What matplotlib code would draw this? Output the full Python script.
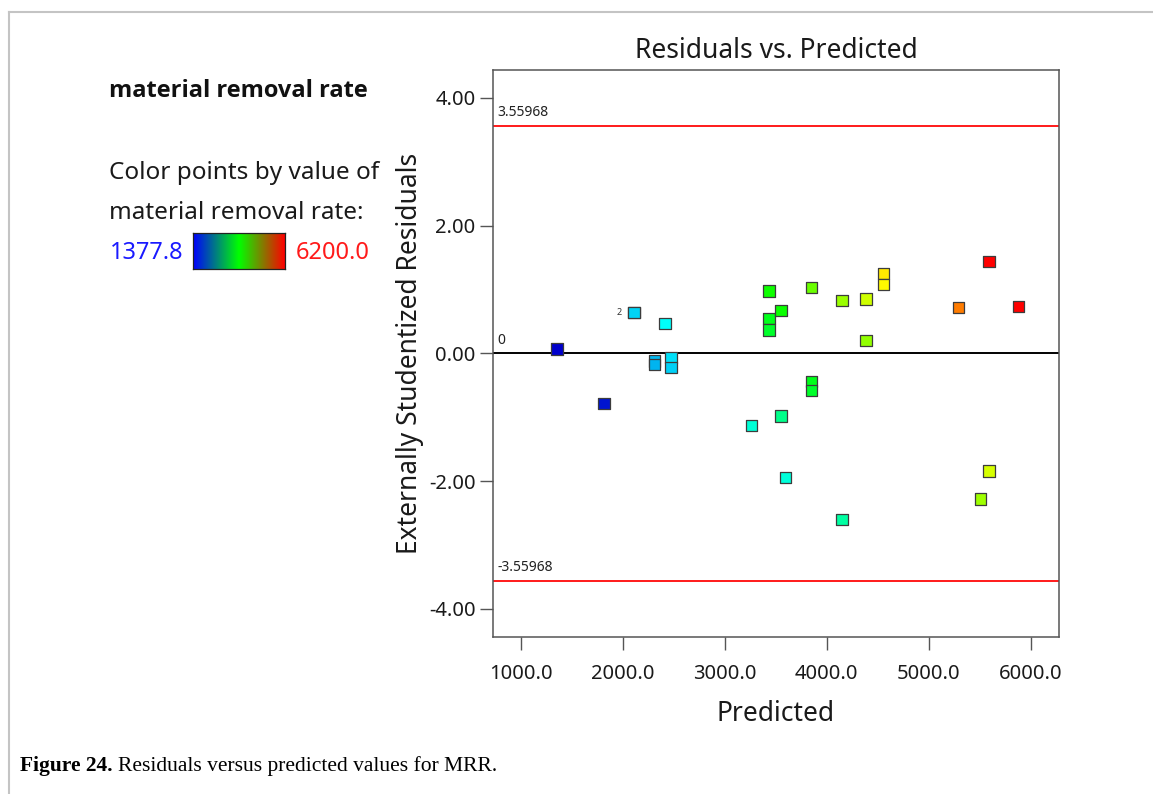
import matplotlib
matplotlib.use("Agg")
import matplotlib.pyplot as plt
import numpy as np
from matplotlib.colors import LinearSegmentedColormap, Normalize
from matplotlib.lines import Line2D

# run data: predicted MRR, externally studentized residual, actual MRR (for colouring)
predicted = [1353, 1814, 2108, 2108, 2413, 2308, 2308, 2471, 2471, 3263,
             3433, 3433, 3433, 3551, 3851, 4149, 4384, 4554, 4554, 4384,
             5290, 5591, 5879, 3851, 3851, 3551, 3597, 4149, 5591, 5510]
residuals = [0.07, -0.79, 0.64, 0.64, 0.47, -0.12, -0.17, -0.06, -0.22, -1.13,
             0.975, 0.55, 0.365, 0.67, 1.03, 0.83, 0.85, 1.25, 1.08, 0.20,
             0.72, 1.44, 0.735, -0.44, -0.585, -0.98, -1.94, -2.60, -1.84, -2.28]
actual_mrr = [1378, 1480, 2380, 2380, 2610, 2255, 2235, 2445, 2376, 2780,
              3850, 3670, 3590, 3840, 4290, 4505, 4750, 5090, 5020, 4470,
              5600, 6200, 6195, 3660, 3600, 3130, 2765, 3030, 4800, 4530]
limit = 3.55968
mrr_min, mrr_max = 1377.8, 6200.0
x_ticks = [1000, 2000, 3000, 4000, 5000, 6000]
y_ticks = [-4, -2, 0, 2, 4]

W, H = 1153, 794
plt.rcParams["font.family"] = ["Noto Sans", "DejaVu Sans"]
fig = plt.figure(figsize=(W / 100, H / 100), dpi=100)


def fx(px):
    return px / W


def fy(py):
    return 1 - py / H


# plot box in pixel coordinates
L, R, T, B = 492.7, 1059.3, 70.0, 636.7
ax = fig.add_axes([fx(L), fy(B), fx(R) - fx(L), fy(T) - fy(B)])

point_cmap = LinearSegmentedColormap.from_list(
    "points", [(0.0, "#0000cc"), (0.25, "#00ffff"), (0.5, "#00ff00"),
               (0.75, "#ffff00"), (1.0, "#ff0000")])
bar_cmap = LinearSegmentedColormap.from_list("bar", ["#0000ff", "#00ff00", "#ff0000"])
norm = Normalize(mrr_min, mrr_max)

ax.axhline(limit, color="#ff1a1a", lw=1.4, zorder=2)
ax.axhline(-limit, color="#ff1a1a", lw=1.4, zorder=2)
ax.axhline(0, color="black", lw=1.4, zorder=2)
ax.scatter(predicted, residuals, c=actual_mrr, cmap=point_cmap, norm=norm,
           marker="s", s=66, edgecolors="#3c3c3c", linewidths=0.9, zorder=3)

# duplicate-run count next to the overlapped point
ax.annotate("2", (predicted[2], residuals[2]), xytext=(-9, 0), textcoords="offset points",
            fontsize=6.5, color="#333333", ha="right", va="center")

ax.text(0.009, limit + 0.09, "3.55968", transform=ax.get_yaxis_transform(),
        fontsize=10, color="#222222", va="bottom")
ax.text(0.009, -limit + 0.09, "-3.55968", transform=ax.get_yaxis_transform(),
        fontsize=10, color="#222222", va="bottom")
ax.text(0.009, 0.09, "0", transform=ax.get_yaxis_transform(),
        fontsize=10, color="#222222", va="bottom")

ax.set_xlim(722, 6281)
ax.set_ylim(-4.435, 4.435)
ax.set_xticks(x_ticks)
ax.set_xticklabels([f"{v:.1f}" for v in x_ticks])
ax.set_yticks(y_ticks)
ax.set_yticklabels([f"{v:.2f}" for v in y_ticks])
ax.tick_params(direction="out", length=9.4, width=1.0, color="#555555",
               labelsize=14.5, labelcolor="#1a1a1a")
ax.tick_params(axis="y", pad=3)
ax.tick_params(axis="x", pad=10.5)
for sp in ax.spines.values():
    sp.set_color("#555555")
    sp.set_linewidth(1.1)

ax.set_xlabel("Predicted", fontsize=19, color="#1a1a1a")
ax.xaxis.label.set_va("center")
ax.xaxis.set_label_coords(0.5, (B - 714) / (B - T))
ax.set_ylabel("Externally Studentized Residuals", fontsize=19, color="#1a1a1a")
ax.yaxis.label.set_va("center")
ax.yaxis.set_label_coords((410 - L) / (R - L), 0.5)
ax.text(0.5, (B - 58) / (B - T), "Residuals vs. Predicted", transform=ax.transAxes,
        ha="center", va="baseline", fontsize=19, color="#1a1a1a")

# left-hand legend panel
fig.text(fx(109), fy(96.7), "material removal rate", fontsize=17, fontweight="bold",
         family=["Open Sans", "DejaVu Sans"], va="baseline", color="#111111")
fig.text(fx(109), fy(179), "Color points by value of", fontsize=17.5, va="baseline",
         color="#1a1a1a")
fig.text(fx(109), fy(219), "material removal rate:", fontsize=17.5, va="baseline",
         color="#1a1a1a")
fig.text(fx(110), fy(259), f"{mrr_min:.1f}", fontsize=17, va="baseline", color="#1a1aff")
fig.text(fx(296), fy(259), f"{mrr_max:.1f}", fontsize=17, va="baseline", color="#ff1a1a")
cax = fig.add_axes([fx(193), fy(269), fx(285) - fx(193), fy(233) - fy(269)])
cax.imshow(np.linspace(0, 1, 256)[None, :], cmap=bar_cmap, aspect="auto")
cax.set_xticks([])
cax.set_yticks([])
for sp in cax.spines.values():
    sp.set_color("#222222")
    sp.set_linewidth(0.9)

# caption: bold label followed by the plain sentence
cap_y = fy(771)
lab = fig.text(fx(20), cap_y, "Figure 24.", fontsize=15.5, fontweight="bold",
               family="Liberation Serif", va="baseline")
fig.canvas.draw()
lab_right = lab.get_window_extent().x1
fig.text(fx(lab_right + 5), cap_y, "Residuals versus predicted values for MRR.",
         fontsize=15.5, family="Liberation Serif", va="baseline")

# page frame on the top and left edges
fig.add_artist(Line2D([fx(8.7), 1], [fy(12), fy(12)], color="#c4c4c4", lw=1.5))
fig.add_artist(Line2D([fx(8.7), fx(8.7)], [fy(12), 0], color="#c4c4c4", lw=1.5))

fig.savefig("out.png", dpi=100)
